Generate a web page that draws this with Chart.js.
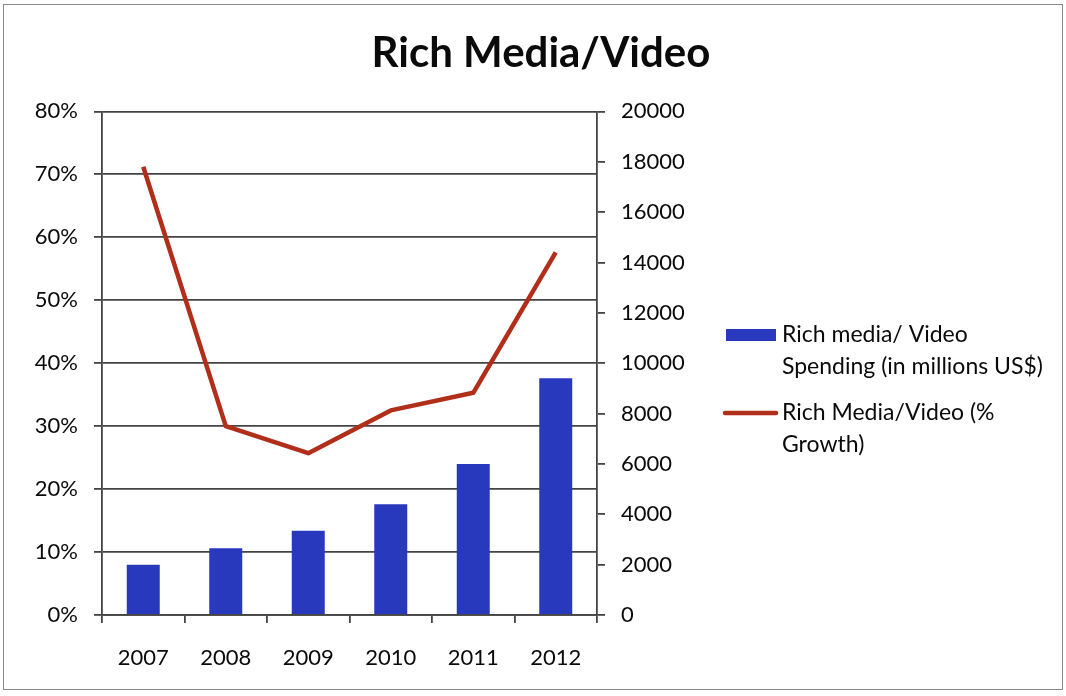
<!DOCTYPE html>
<html>
<head>
<meta charset="utf-8">
<title>Rich Media/Video</title>
<script src="https://cdn.jsdelivr.net/npm/chart.js@4.4.1/dist/chart.umd.min.js"></script>
<style>
    html, body { margin: 0; padding: 0; background: #fff; }
    .wrap { position: relative; width: 1066px; height: 696px; }
    .wrap canvas { position: absolute; left: 0; top: 0; }
    .frame {
        position: absolute; left: 3px; top: 4px; width: 1058px; height: 684px;
        border: 1px solid #8a8a8a; pointer-events: none;
    }
</style>
</head>
<body>
<div class="wrap">
    <canvas id="richMediaChart" width="1066" height="696"></canvas>
    <div class="frame"></div>
</div>
<script>
// Chart data
const years = ['2007', '2008', '2009', '2010', '2011', '2012'];
const spending = [2000, 2650, 3350, 4400, 6000, 9400];        // millions US$
const growth = [71.2, 30.0, 25.7, 32.5, 35.3, 57.6];           // % growth
const spendingLegend = ['Rich media/ Video', 'Spending (in millions US$)'];
const growthLegend = ['Rich Media/Video (%', 'Growth)'];

const FONT = 'Lato, "Open Sans", sans-serif';
const BLUE = '#2839bd';
const RED = '#b12e1a';
const AXIS = '#444';

// Legend with wrapped labels, drawn to the right of the plot
const sideLegend = {
    id: 'sideLegend',
    afterDraw(chart) {
        const ctx = chart.ctx;
        const x0 = 724, textX = 782;
        let y = 335;
        ctx.save();
        ctx.font = '23px ' + FONT;
        ctx.textBaseline = 'middle';
        chart.data.datasets.forEach(ds => {
            if (ds.type === 'bar') {
                ctx.fillStyle = ds.backgroundColor;
                ctx.fillRect(x0 + 2, y - 6, 50, 12);
            } else {
                ctx.strokeStyle = ds.borderColor;
                ctx.lineWidth = 4.5;
                ctx.lineCap = 'round';
                ctx.beginPath();
                ctx.moveTo(x0 + 1, y);
                ctx.lineTo(x0 + 52, y);
                ctx.stroke();
            }
            ctx.fillStyle = '#0a0a0a';
            ds.legendLines.forEach((line, i) => {
                ctx.fillText(line, textX, y + i * 32);
            });
            y += ds.legendLines.length * 32 + 14;
        });
        ctx.restore();
    }
};

function initializeChart() {
    const ctx = document.getElementById('richMediaChart');

    new Chart(ctx, {
        data: {
            labels: years,
            datasets: [{
                type: 'bar',
                label: spendingLegend.join(' '),
                legendLines: spendingLegend,
                data: spending,
                yAxisID: 'yRight',
                backgroundColor: BLUE,
                barPercentage: 0.4,
                categoryPercentage: 1,
                order: 1
            }, {
                type: 'line',
                label: growthLegend.join(' '),
                legendLines: growthLegend,
                data: growth,
                yAxisID: 'yLeft',
                borderColor: RED,
                borderWidth: 4.5,
                borderJoinStyle: 'round',
                tension: 0,
                pointRadius: 0,
                order: 0
            }]
        },
        options: {
            responsive: false,
            animation: false,
            layout: { padding: { left: 16, right: 0, top: 28, bottom: 0 } },
            plugins: {
                legend: { display: false },
                tooltip: { enabled: false },
                title: {
                    display: true,
                    text: 'Rich Media/Video',
                    color: '#0a0a0a',
                    font: { family: FONT, size: 42, weight: 'bold', lineHeight: 1.2 },
                    padding: { top: 0, bottom: 33 }
                }
            },
            scales: {
                x: {
                    offset: true,
                    grid: {
                        offset: true,
                        drawOnChartArea: false,
                        drawTicks: true,
                        tickLength: 8,
                        color: AXIS,
                        lineWidth: 1.8
                    },
                    border: { color: AXIS, width: 1.8 },
                    ticks: { color: '#0a0a0a', padding: 22, font: { family: FONT, size: 22 } },
                    afterFit(scale) { scale.height = 81; }
                },
                yLeft: {
                    position: 'left',
                    min: 0,
                    max: 80,
                    ticks: {
                        stepSize: 10,
                        color: '#0a0a0a',
                        padding: 16,
                        font: { family: FONT, size: 22 },
                        callback: v => v + '%'
                    },
                    grid: { color: AXIS, lineWidth: 1.8, tickLength: 8 },
                    border: { color: AXIS, width: 1.8 },
                    afterFit(scale) { scale.width = 86; }
                },
                yRight: {
                    position: 'right',
                    min: 0,
                    max: 20000,
                    ticks: {
                        stepSize: 2000,
                        color: '#0a0a0a',
                        padding: 16,
                        font: { family: FONT, size: 22 },
                        callback: v => String(v)
                    },
                    grid: { drawOnChartArea: false, color: AXIS, lineWidth: 1.8, tickLength: 8 },
                    border: { color: AXIS, width: 1.8 },
                    afterFit(scale) { scale.width = 469; }
                }
            }
        },
        plugins: [sideLegend]
    });
}

document.addEventListener('DOMContentLoaded', initializeChart);
</script>
</body>
</html>
